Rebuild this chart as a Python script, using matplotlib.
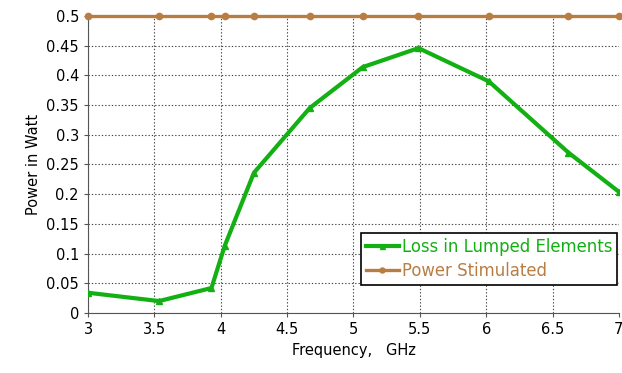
import numpy as np
import matplotlib
matplotlib.use("Agg")
import matplotlib.pyplot as plt

freq = [3.0, 3.535, 3.93, 4.03, 4.25, 4.67, 5.07, 5.49, 6.02, 6.62, 7.0]
loss = [0.034, 0.020, 0.042, 0.113, 0.236, 0.345, 0.414, 0.446, 0.390, 0.270, 0.204]
stim = [0.5] * len(freq)
xticks = [3, 3.5, 4, 4.5, 5, 5.5, 6, 6.5, 7]
yticks = [0, 0.05, 0.1, 0.15, 0.2, 0.25, 0.3, 0.35, 0.4, 0.45, 0.5]

GREEN = "#12b012"
BROWN = "#b87d42"

fig = plt.figure(figsize=(6.22, 3.73), dpi=100)
ax = fig.add_axes([0.1415, 0.161, 0.8535, 0.796])

ax.plot(freq, loss, "-^", color=GREEN, lw=3.0, ms=4.5, label="Loss in Lumped Elements", zorder=3)
ax.plot(freq, stim, "-o", color=BROWN, lw=2.4, ms=4.5, label="Power Stimulated", zorder=3, clip_on=False)

ax.set_xlim(3, 7); ax.set_ylim(0, 0.5)
ax.set_xticks(xticks, [f"{t:g}" for t in xticks])
ax.set_yticks(yticks, [f"{t:g}" for t in yticks])
ax.tick_params(labelsize=10.5, length=3, color="#555555", direction="out")
ax.grid(True, ls=(0, (1.2, 1.8)), color="#444444", lw=0.8)
for s in ["top", "right"]:
    ax.spines[s].set_visible(False)
for s in ["left", "bottom"]:
    ax.spines[s].set_color("#555555")

ax.set_xlabel("Frequency,   GHz", fontsize=10.5)
ax.set_ylabel("Power in Watt", fontsize=10.5)

leg = ax.legend(loc="lower right", bbox_to_anchor=(0.997, 0.095), fontsize=11.9,
                fancybox=False, framealpha=1, edgecolor="black", handlelength=2.0,
                handletextpad=0.2, borderpad=0.3, labelspacing=0.35, markerscale=0.8,
                borderaxespad=0)
leg.get_frame().set_linewidth(1.2)
for t, c in zip(leg.get_texts(), [GREEN, BROWN]):
    t.set_color(c)

fig.savefig("out.png", dpi=100)
